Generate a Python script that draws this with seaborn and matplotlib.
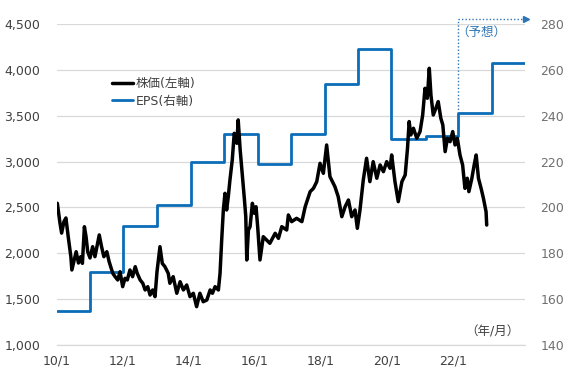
import matplotlib
matplotlib.use("Agg")
import matplotlib.pyplot as plt
import seaborn as sns
import pandas as pd
from matplotlib.lines import Line2D

# ---------------- data ----------------
price_year = [
    2010.01, 2010.09, 2010.14, 2010.21, 2010.27, 2010.34, 2010.42, 2010.45, 2010.52, 2010.58,
    2010.65, 2010.72, 2010.77, 2010.83, 2010.88, 2010.93, 2011.00, 2011.08, 2011.15, 2011.28,
    2011.35, 2011.42, 2011.51, 2011.58, 2011.69, 2011.76, 2011.84, 2011.91, 2011.99, 2012.06,
    2012.13, 2012.21, 2012.29, 2012.37, 2012.43, 2012.52, 2012.60, 2012.67, 2012.75, 2012.82,
    2012.90, 2012.97, 2013.03, 2013.12, 2013.19, 2013.27, 2013.37, 2013.42, 2013.52, 2013.63,
    2013.73, 2013.83, 2013.93, 2014.03, 2014.13, 2014.23, 2014.33, 2014.43, 2014.54, 2014.64,
    2014.71, 2014.79, 2014.89, 2014.94, 2014.99, 2015.04, 2015.09, 2015.14, 2015.19, 2015.24,
    2015.31, 2015.37, 2015.45, 2015.49, 2015.55, 2015.62, 2015.68, 2015.72, 2015.75, 2015.80,
    2015.85, 2015.92, 2015.98, 2016.03, 2016.08, 2016.15, 2016.25, 2016.35, 2016.45, 2016.61,
    2016.71, 2016.81, 2016.96, 2017.01, 2017.11, 2017.26, 2017.42, 2017.52, 2017.67, 2017.77,
    2017.87, 2017.97, 2018.07, 2018.17, 2018.27, 2018.42, 2018.52, 2018.63, 2018.73, 2018.83,
    2018.93, 2019.03, 2019.10, 2019.18, 2019.28, 2019.38, 2019.48, 2019.58, 2019.69, 2019.79,
    2019.89, 2019.99, 2020.09, 2020.14, 2020.24, 2020.34, 2020.45, 2020.55, 2020.62, 2020.67,
    2020.72, 2020.80, 2020.90, 2021.00, 2021.08, 2021.15, 2021.22, 2021.28, 2021.33, 2021.40,
    2021.48, 2021.55, 2021.63, 2021.69, 2021.76, 2021.83, 2021.91, 2021.99, 2022.06, 2022.13,
    2022.21, 2022.29, 2022.36, 2022.43, 2022.48, 2022.57, 2022.64, 2022.70, 2022.77, 2022.85,
    2022.92, 2023.00, 2023.02,
]
price_value = [
    2545, 2330, 2220, 2345, 2385, 2180, 1963, 1818, 1927, 2017,
    1894, 1963, 1890, 2290, 2181, 2017, 1949, 2072, 1963, 2200,
    2072, 1963, 2017, 1908, 1782, 1745, 1709, 1799, 1636, 1727,
    1709, 1818, 1745, 1854, 1782, 1709, 1673, 1600, 1636, 1545,
    1600, 1527, 1800, 2072, 1890, 1854, 1782, 1673, 1745, 1564,
    1690, 1600, 1654, 1527, 1564, 1418, 1564, 1472, 1491, 1600,
    1564, 1636, 1600, 1782, 2145, 2472, 2654, 2472, 2618, 2799,
    3017, 3308, 3199, 3454, 3126, 2836, 2581, 2399, 1927, 2254,
    2290, 2545, 2436, 2508, 2290, 1927, 2181, 2145, 2109, 2218,
    2163, 2290, 2254, 2418, 2345, 2381, 2345, 2508, 2672, 2708,
    2781, 2981, 2872, 3181, 2836, 2727, 2618, 2399, 2508, 2581,
    2399, 2472, 2272, 2472, 2799, 3036, 2781, 2999, 2818, 2963,
    2890, 2999, 2927, 3072, 2781, 2563, 2781, 2854, 3145, 3436,
    3290, 3363, 3254, 3327, 3508, 3799, 3690, 4017, 3726, 3508,
    3581, 3654, 3472, 3399, 3108, 3254, 3217, 3327, 3181, 3254,
    3072, 2963, 2708, 2818, 2672, 2818, 2963, 3072, 2818, 2708,
    2600, 2454, 2308,
]

eps_start = [2010.00, 2011.00, 2012.00, 2013.03, 2014.06, 2015.06, 2016.10,
             2017.09, 2018.12, 2019.12, 2020.12, 2021.18, 2022.15, 2023.18]
eps_value = [155, 172, 192, 201, 220, 232, 219, 232, 254, 269, 230, 231, 241, 263]
eps_end = 2024.18

x_ticks = [2010, 2012, 2014, 2016, 2018, 2020, 2022]
x_tick_labels = ["10/1", "12/1", "14/1", "16/1", "18/1", "20/1", "22/1"]
left_ticks = [1000, 1500, 2000, 2500, 3000, 3500, 4000, 4500]
left_tick_labels = ["1,000", "1,500", "2,000", "2,500", "3,000", "3,500", "4,000", "4,500"]
right_ticks = [140, 160, 180, 200, 220, 240, 260, 280]

price_label = "株価(左軸)"
eps_label = "EPS(右軸)"
forecast_label = "（予想）"
unit_label = "（年/月）"
forecast_start = 2022.15
forecast_top = 282

# ---------------- style ----------------
sns.set_style("white")
plt.rcParams["font.family"] = ["DejaVu Sans", "Noto Sans CJK JP"]

BLACK = "#000000"
BLUE = "#0B6DB7"
DOT_BLUE = "#2E75B6"
GRID = "#D9D9D9"
TXT = "#404040"
TXT_R = "#707070"

fig = plt.figure(figsize=(5.67, 3.78), dpi=100)
ax = fig.add_subplot(111)
fig.subplots_adjust(left=57 / 567, right=525 / 567, top=1 - 24 / 378, bottom=1 - 345 / 378)
ax2 = ax.twinx()

price_df = pd.DataFrame({"year": price_year, "price": price_value})
eps_df = pd.DataFrame({"year": eps_start + [eps_end], "eps": eps_value + [eps_value[-1]]})

# EPS (right axis), drawn beneath price
sns.lineplot(data=eps_df, x="year", y="eps", ax=ax2, color=BLUE, linewidth=2.0,
             drawstyle="steps-post", sort=True, estimator=None, legend=False)
sns.lineplot(data=price_df, x="year", y="price", ax=ax, color=BLACK, linewidth=2.5,
             sort=True, estimator=None, legend=False)

ax.set_zorder(ax2.get_zorder() + 1)
ax.patch.set_visible(False)

# axes limits / ticks
ax.set_xlim(2010.0, eps_end)
ax.set_ylim(1000, 4500)
ax2.set_ylim(140, 280)
ax.set_xticks(x_ticks)
ax.set_xticklabels(x_tick_labels)
ax.set_yticks(left_ticks)
ax.set_yticklabels(left_tick_labels)
ax2.set_yticks(right_ticks)
ax2.set_yticklabels([str(v) for v in right_ticks])
ax.set_xlabel("")
ax.set_ylabel("")
ax2.set_ylabel("")

ax2.grid(axis="y", color=GRID, linewidth=0.9)
ax.grid(False)

for sp in ["top", "left", "right"]:
    ax.spines[sp].set_visible(False)
for sp in ["top", "left", "right", "bottom"]:
    ax2.spines[sp].set_visible(False)
ax.spines["bottom"].set_color(GRID)
ax.spines["bottom"].set_linewidth(0.9)

ax.tick_params(axis="y", length=0, pad=12, labelsize=9, labelcolor=TXT)
ax.tick_params(axis="x", length=4, width=0.9, color=GRID, pad=3, labelsize=9, labelcolor=TXT,
               direction="out")
ax2.tick_params(axis="y", length=0, pad=11, labelsize=9, labelcolor=TXT_R)

# forecast marker (dotted) on right axis
ax2.plot([forecast_start, forecast_start], [eps_value[-2], forecast_top], linestyle=(0, (1, 1.5)),
         color=DOT_BLUE, linewidth=1.0, clip_on=False)
ax2.plot([forecast_start, eps_end], [forecast_top, forecast_top], linestyle=(0, (1, 1.5)),
         color=DOT_BLUE, linewidth=1.0, clip_on=False)
ax2.plot([eps_end + 0.03], [forecast_top], marker=">", markersize=5, color=DOT_BLUE,
         linestyle="none", clip_on=False)
ax2.text(2022.85, 276.3, forecast_label, color=DOT_BLUE, fontsize=9, ha="center", va="center")

# unit label
ax.text(2023.2, 1140, unit_label, color=TXT, fontsize=9, ha="center", va="center")

# legend
handles = [Line2D([0], [0], color=BLACK, linewidth=2.5),
           Line2D([0], [0], color=BLUE, linewidth=2.0)]
leg = ax.legend(handles, [price_label, eps_label], loc="upper left",
                bbox_to_anchor=(0.106, 0.85), frameon=False, fontsize=9,
                handlelength=1.7, handletextpad=0.2, labelspacing=0.35,
                borderaxespad=0)
for t in leg.get_texts():
    t.set_color(TXT)

fig.savefig("out.png", dpi=100, facecolor="white")
